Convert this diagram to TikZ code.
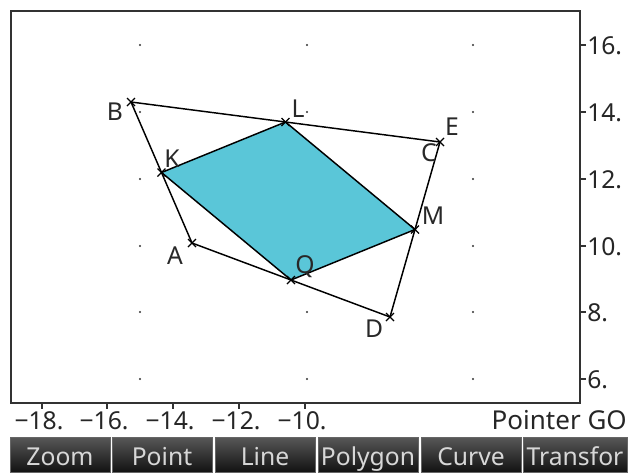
\documentclass[tikz,border=0pt]{standalone}
\usepackage{fontspec}
\setmainfont{Noto Sans}
\usetikzlibrary{calc}
\definecolor{fillc}{RGB}{90,198,216}
\definecolor{framec}{RGB}{50,50,50}
\definecolor{lblc}{RGB}{40,40,40}
\definecolor{btntop}{RGB}{88,88,88}
\definecolor{btnbot}{RGB}{18,18,18}
\definecolor{btntext}{RGB}{215,215,215}
\begin{document}
\begin{tikzpicture}[x=0.75pt,y=-0.75pt,
  txt/.style={inner sep=0pt,font=\fontsize{18.5}{20}\selectfont,text=lblc},
  ptlbl/.style={txt},
  axlbl/.style={txt,text=black!85},
  edge/.style={draw=black,line width=1.1pt},
  btn/.style={draw=black!60,line width=0.6pt,top color=btntop,bottom color=btnbot},
  btnlbl/.style={inner sep=0pt,font=\fontsize{18.5}{20}\selectfont,text=btntext,anchor=base}]
\useasboundingbox (0,0) rectangle (631,472);
\fill[white] (0,0) rectangle (631,472);
% grid dots
\foreach \gx in {140,307,473}{
  \foreach \gy in {45,112,179,246,312,379}{
    \fill[black!80] (\gx,\gy) circle (0.85pt);
  }
}
% frame
\draw[framec,line width=1.6pt] (11,11) rectangle (580,403);
% ticks bottom
\foreach \tx/\tl in {42/{−18.},107/{−16.},173/{−14.},239/{−12.},305/{−10.}}{
  \draw[framec,line width=1pt] (\tx,403) -- (\tx,409);
  \node[axlbl,anchor=base] at (\tx-3,429) {\tl};
}
% ticks right
\foreach \ty/\tl in {45/{16.},112/{14.},179/{12.},246/{10.},312/{8.},379/{6.}}{
  \draw[framec,line width=1pt] (580,\ty) -- (586,\ty);
  \node[axlbl,anchor=west] at (587,\ty+1) {\tl};
}
\node[axlbl,anchor=base east,font=\fontsize{19.5}{21}\selectfont] (ptr) at (627,429) {Pointer GO};
% points
\coordinate (B) at (131,102);
\coordinate (C) at (440,142);
\coordinate (D) at (390,317);
\coordinate (A) at (192,243);
\coordinate (K) at ($(A)!0.5!(B)$);
\coordinate (L) at ($(B)!0.5!(C)$);
\coordinate (M) at ($(C)!0.5!(D)$);
\coordinate (Q) at ($(D)!0.5!(A)$);
\fill[fillc] (K) -- (L) -- (M) -- (Q) -- cycle;
\draw[edge] (B) -- (L) -- (C) -- (M) -- (D) -- (Q) -- (A) -- (K) -- (B);
\draw[edge] (K) -- (L) -- (M) -- (Q) -- (K);
\foreach \p in {A,B,C,D,K,L,M,Q}{
  \draw[black,line width=0.9pt] ($(\p)+(-4,-4)$) -- ($(\p)+(4,4)$);
  \draw[black,line width=0.9pt] ($(\p)+(-4,4)$) -- ($(\p)+(4,-4)$);
}
% labels
\node[ptlbl] (lB) at (115,112) {B};
\node[ptlbl] (lL) at (298,109) {L};
\node[ptlbl] (lE) at (452,127) {E};
\node[ptlbl] (lC) at (429,153) {C};
\node[ptlbl] (lK) at (172,159) {K};
\node[ptlbl] (lM) at (433,216) {M};
\node[ptlbl] (lA) at (175,256) {A};
\node[ptlbl] (lQ) at (305,267) {Q};
\node[ptlbl] (lD) at (374,329) {D};
% menu
\foreach \bx/\bw/\bl in {10/100/Zoom,112/100/Point,215/100/Line,318/100/Polygon,421/100/Curve,523/104/Transfor}{
  \path[btn] (\bx,437) rectangle (\bx+\bw,472);
  \node[btnlbl] at (\bx+\bw/2,465) {\bl};
}
\end{tikzpicture}
\end{document}
